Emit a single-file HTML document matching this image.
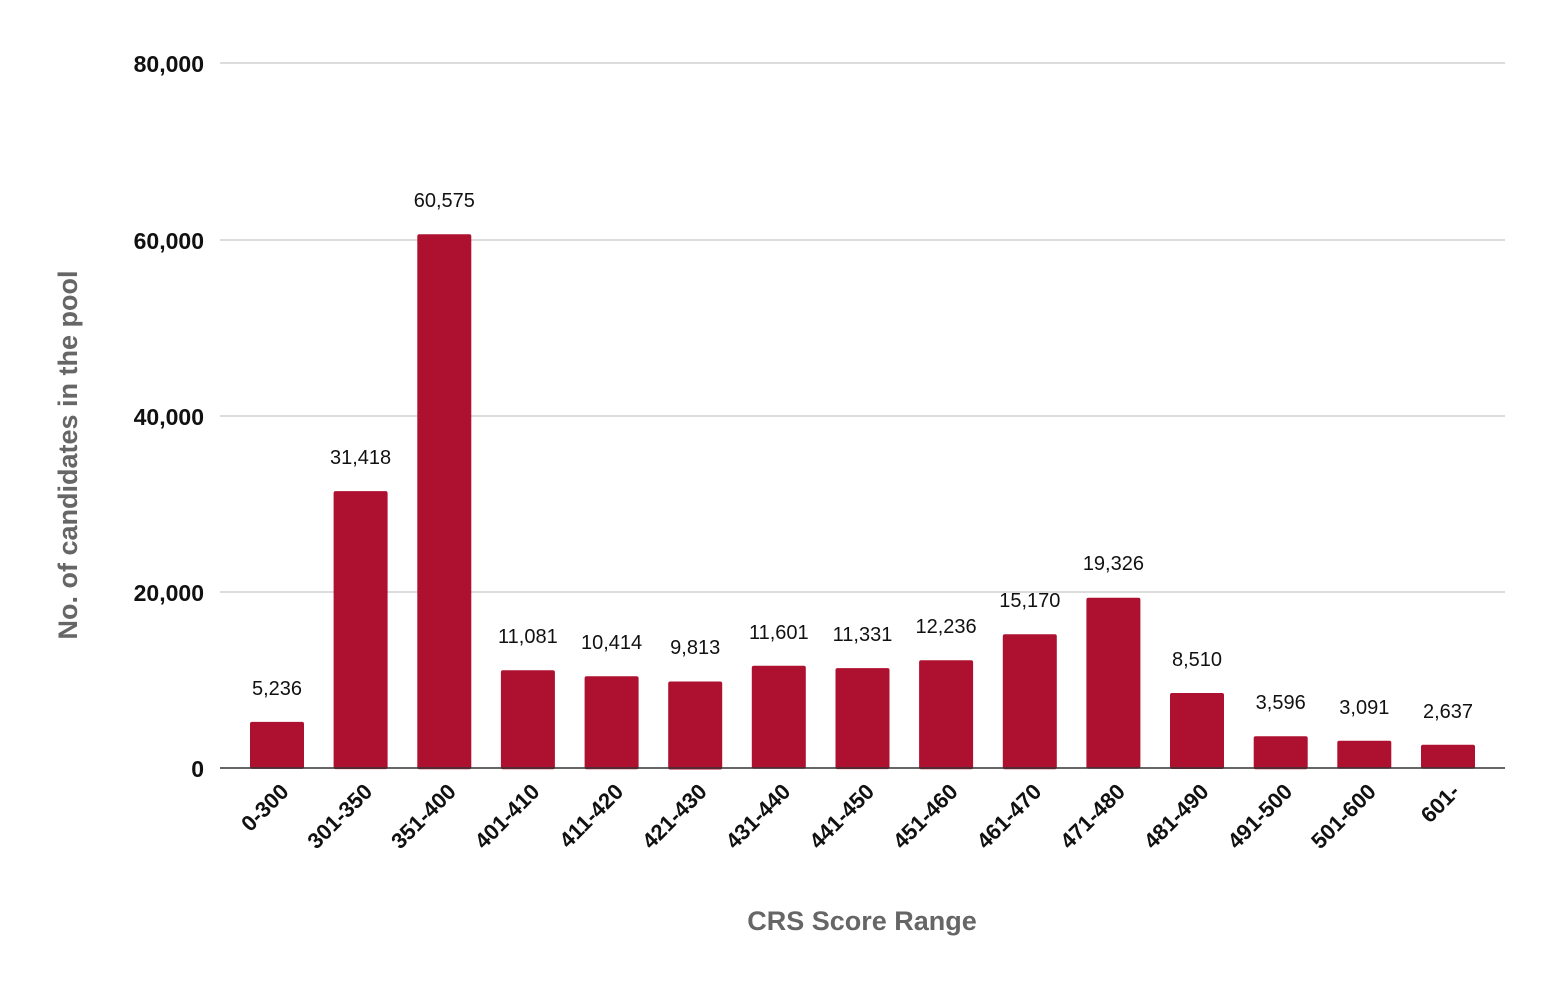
<!DOCTYPE html>
<html><head><meta charset="utf-8"><style>body{margin:0;background:#fff}svg{display:block}</style></head>
<body>
<svg width="1555" height="988" xmlns="http://www.w3.org/2000/svg" font-family="Liberation Sans, Arial, sans-serif">
<rect width="1555" height="988" fill="#fff"/>
<g stroke="#d0d0d0" stroke-width="1.5">
<line x1="220" y1="63" x2="1505" y2="63"/>
<line x1="220" y1="240" x2="1505" y2="240"/>
<line x1="220" y1="416" x2="1505" y2="416"/>
<line x1="220" y1="592" x2="1505" y2="592"/>
</g>
<g font-size="23" font-weight="bold" fill="#111" text-anchor="end">
<text x="204" y="72">80,000</text>
<text x="204" y="249">60,000</text>
<text x="204" y="425">40,000</text>
<text x="204" y="601">20,000</text>
<text x="204" y="777">0</text>
</g>
<g fill="#ae1130">
<rect x="250" y="721.9" width="54" height="47" rx="2"/>
<rect x="333.6" y="491.1" width="54" height="278" rx="2"/>
<rect x="417.3" y="234.2" width="54" height="535" rx="2"/>
<rect x="500.9" y="670.3" width="54" height="99" rx="2"/>
<rect x="584.6" y="676.2" width="54" height="93" rx="2"/>
<rect x="668.2" y="681.5" width="54" height="88" rx="2"/>
<rect x="751.8" y="665.8" width="54" height="103" rx="2"/>
<rect x="835.5" y="668.1" width="54" height="101" rx="2"/>
<rect x="919.1" y="660.2" width="54" height="109" rx="2"/>
<rect x="1002.8" y="634.3" width="54" height="135" rx="2"/>
<rect x="1086.4" y="597.7" width="54" height="171" rx="2"/>
<rect x="1170" y="693" width="54" height="76" rx="2"/>
<rect x="1253.7" y="736.3" width="54" height="33" rx="2"/>
<rect x="1337.3" y="740.8" width="54" height="28" rx="2"/>
<rect x="1421" y="744.8" width="54" height="24" rx="2"/>
</g>
<g font-size="20" fill="#111" text-anchor="middle">
<text x="277" y="695">5,236</text>
<text x="360.6" y="464">31,418</text>
<text x="444.3" y="207">60,575</text>
<text x="527.9" y="643">11,081</text>
<text x="611.6" y="649">10,414</text>
<text x="695.2" y="654">9,813</text>
<text x="778.8" y="639">11,601</text>
<text x="862.5" y="641">11,331</text>
<text x="946.1" y="633">12,236</text>
<text x="1029.8" y="607">15,170</text>
<text x="1113.4" y="570">19,326</text>
<text x="1197" y="666">8,510</text>
<text x="1280.7" y="709">3,596</text>
<text x="1364.3" y="714">3,091</text>
<text x="1448" y="718">2,637</text>
</g>
<line x1="220" y1="768" x2="1505" y2="768" stroke="#333" stroke-width="1.5"/>
<g font-size="22" font-weight="bold" fill="#111" text-anchor="end">
<text transform="translate(290,793) rotate(-45)">0-300</text>
<text transform="translate(373.6,793) rotate(-45)">301-350</text>
<text transform="translate(457.3,793) rotate(-45)">351-400</text>
<text transform="translate(540.9,793) rotate(-45)">401-410</text>
<text transform="translate(624.6,793) rotate(-45)">411-420</text>
<text transform="translate(708.2,793) rotate(-45)">421-430</text>
<text transform="translate(791.8,793) rotate(-45)">431-440</text>
<text transform="translate(875.5,793) rotate(-45)">441-450</text>
<text transform="translate(959.1,793) rotate(-45)">451-460</text>
<text transform="translate(1042.8,793) rotate(-45)">461-470</text>
<text transform="translate(1126.4,793) rotate(-45)">471-480</text>
<text transform="translate(1210,793) rotate(-45)">481-490</text>
<text transform="translate(1293.7,793) rotate(-45)">491-500</text>
<text transform="translate(1377.3,793) rotate(-45)">501-600</text>
<text transform="translate(1461,793) rotate(-45)">601-</text>
</g>
<text x="862" y="930" font-size="27" font-weight="bold" fill="#666" text-anchor="middle">CRS Score Range</text>
<text transform="translate(77,455) rotate(-90)" font-size="27" font-weight="bold" fill="#666" text-anchor="middle">No. of candidates in the pool</text>
</svg>
</body></html>
